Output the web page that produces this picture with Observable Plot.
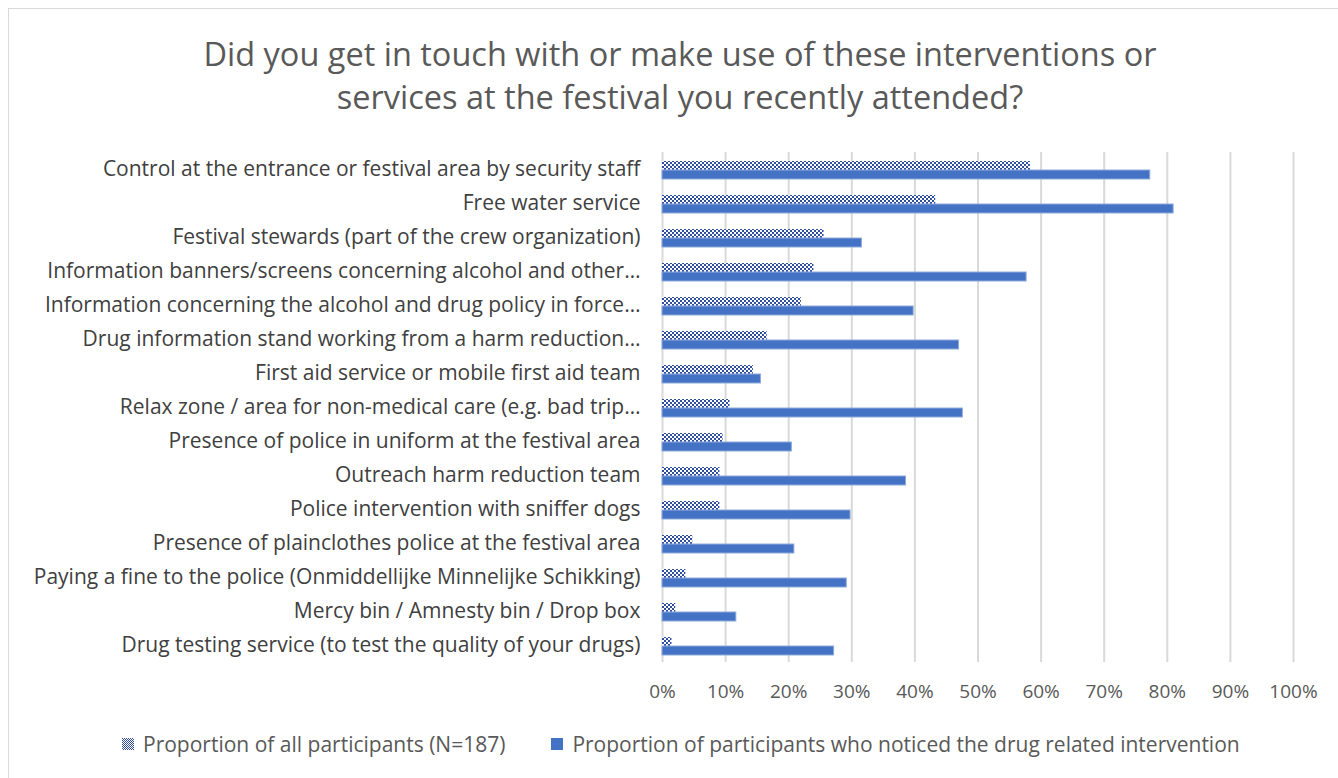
<!DOCTYPE html>
<html>
<head>
<meta charset="utf-8">
<script src="https://cdn.jsdelivr.net/npm/d3@7"></script>
<script src="https://cdn.jsdelivr.net/npm/@observablehq/plot@0.6"></script>
<style>
  html, body { margin: 0; padding: 0; background: #fff; }
  body { width: 1338px; height: 778px; position: relative; overflow: hidden; font-family: "Open Sans", "Liberation Sans", sans-serif; }
  #frame { position: absolute; left: 8px; top: 8px; width: 1340px; height: 780px; border: 1px solid #d9d9d9; box-sizing: border-box; }
  #title { position: absolute; left: 0; width: 1360px; top: 32px; text-align: center; font-size: 32.5px; line-height: 43px; color: #595959; }
  #chart { position: absolute; left: 0; top: 140px; }
  #legend { position: absolute; top: 730px; left: 122px; font-size: 21px; color: #595959; display: flex; align-items: center; white-space: nowrap; }
  #legend .item { display: flex; align-items: center; }
  #legend svg { margin-right: 9px; }
</style>
</head>
<body>
<div id="frame"></div>
<div id="title">Did you get in touch with or make use of these interventions or<br>services at the festival you recently attended?</div>
<div id="chart"></div>
<div id="legend"></div>
<script>
const categories = [
  "Control at the entrance or festival area by security staff",
  "Free water service",
  "Festival stewards (part of the crew organization)",
  "Information banners/screens concerning alcohol and other\u2026",
  "Information concerning the alcohol and drug policy in force\u2026",
  "Drug information stand working from a harm reduction\u2026",
  "First aid service or mobile first aid team",
  "Relax zone / area for non-medical care (e.g. bad trip\u2026",
  "Presence of police in uniform at the festival area",
  "Outreach harm reduction team",
  "Police intervention with sniffer dogs",
  "Presence of plainclothes police at the festival area",
  "Paying a fine to the police (Onmiddellijke Minnelijke Schikking)",
  "Mercy bin / Amnesty bin / Drop box",
  "Drug testing service (to test the quality of your drugs)"
];
const allParticipants = [58.3, 43.3, 25.6, 24.0, 22.0, 16.6, 14.4, 10.7, 9.6, 9.1, 9.1, 4.8, 3.7, 2.1, 1.5];
const noticed = [77.3, 81.0, 31.6, 57.7, 39.8, 47.0, 15.6, 47.6, 20.5, 38.6, 29.8, 20.9, 29.2, 11.7, 27.2];
const seriesNames = ["Proportion of all participants (N=187)", "Proportion of participants who noticed the drug related intervention"];
const xTicks = [0, 10, 20, 30, 40, 50, 60, 70, 80, 90, 100];

const rowsAll = categories.map((c, i) => ({category: c, value: allParticipants[i]}));
const rowsNoticed = categories.map((c, i) => ({category: c, value: noticed[i]}));

const solid = "#4472C4";
const dark = "#2F4F9E";

const plot = Plot.plot({
  width: 1338,
  height: 582,
  marginTop: 12,
  marginBottom: 60,
  marginLeft: 662,
  marginRight: 45,
  style: {fontFamily: "'Open Sans', 'Liberation Sans', sans-serif", fontSize: "21px", color: "#404040", background: "transparent"},
  x: {domain: [0, 100], ticks: xTicks, tickFormat: d => d + "%", label: null, tickSize: 0, tickPadding: 22},
  y: {domain: categories, padding: 0, label: null, tickSize: 0, tickPadding: 22},
  marks: [
    Plot.gridX(xTicks, {stroke: "#d9d9d9", strokeWidth: 2, strokeOpacity: 1}),
    Plot.barX(rowsAll, {y: "category", x: "value", fill: "url(#checker)", insetTop: 9, insetBottom: 16}),
    Plot.barX(rowsNoticed, {y: "category", x: "value", fill: solid, stroke: "#8faadc", strokeWidth: 1, insetTop: 18, insetBottom: 7})
  ]
});

const svg = d3.select(plot);
const defs = svg.insert("defs", ":first-child");
const pat = defs.append("pattern").attr("id", "checker").attr("width", 4).attr("height", 4).attr("patternUnits", "userSpaceOnUse");
pat.append("rect").attr("width", 4).attr("height", 4).attr("fill", "#fff");
pat.append("rect").attr("width", 2).attr("height", 2).attr("fill", dark);
pat.append("rect").attr("x", 2).attr("y", 2).attr("width", 2).attr("height", 2).attr("fill", dark);
svg.selectAll("[aria-label='x-axis tick label']").attr("fill", "#595959").style("font-size", "19px");
document.getElementById("chart").appendChild(plot);

// legend
const legend = d3.select("#legend");
seriesNames.forEach((name, i) => {
  const item = legend.append("div").attr("class", "item").style("margin-right", i === 0 ? "46px" : "0");
  const s = item.append("svg").attr("width", 12).attr("height", 12);
  if (i === 0) {
    const p = s.append("defs").append("pattern").attr("id", "checkerLeg").attr("width", 2).attr("height", 2).attr("patternUnits", "userSpaceOnUse");
    p.append("rect").attr("width", 2).attr("height", 2).attr("fill", "#fff");
    p.append("rect").attr("width", 1).attr("height", 1).attr("fill", dark);
    p.append("rect").attr("x", 1).attr("y", 1).attr("width", 1).attr("height", 1).attr("fill", dark);
    s.append("rect").attr("width", 12).attr("height", 12).attr("fill", "url(#checkerLeg)");
  } else {
    s.append("rect").attr("width", 12).attr("height", 12).attr("fill", solid);
  }
  item.append("span").text(name);
});
</script>
</body>
</html>
